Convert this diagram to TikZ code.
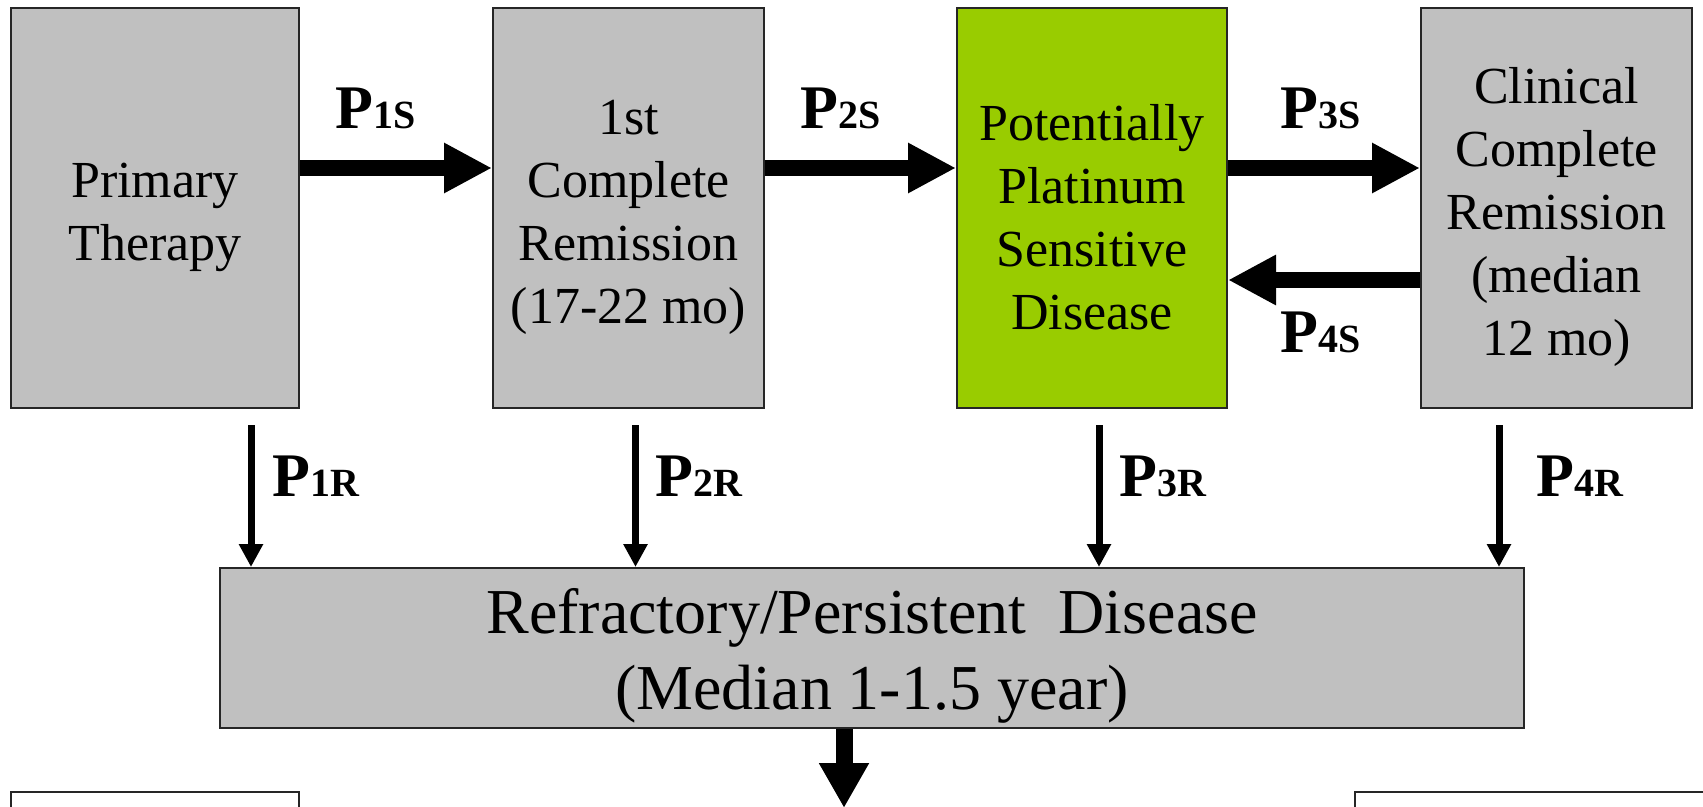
\documentclass[tikz,border=0pt]{standalone}
\usepackage{fontspec}
\setmainfont{Liberation Serif}
\usetikzlibrary{arrows.meta}
\definecolor{boxgray}{HTML}{C0C0C0}
\definecolor{platgreen}{HTML}{99CC00}
\newcommand{\prob}[1]{{\fontsize{62}{62}\selectfont\bfseries P}{\fontsize{40}{40}\selectfont\bfseries #1}}
\newcommand{\lift}[1]{\rule{0pt}{#1}}

\begin{document}
\begin{tikzpicture}[x=1pt,y=-1pt,
    state/.style={draw=black!85,line width=2pt,fill=boxgray,align=center,
      minimum height=400pt,inner sep=0pt,
      font=\fontsize{52}{63}\selectfont},
    sarrow/.style={line width=16pt,-{Triangle[length=48pt,width=47pt]}},
    rarrow/.style={line width=7pt,-{Triangle[length=23pt,width=23pt]}},
    darrow/.style={line width=17pt,-{Triangle[length=45pt,width=47pt]}},
    plabel/.style={anchor=base west,inner sep=0pt}]
  \useasboundingbox(0,0)rectangle(1703,806);
  \clip(0,0)rectangle(1703,806);
  \node[state,minimum width=288pt](prim)at(155,208){\lift{54pt}Primary\\Therapy};
  \node[state,minimum width=271pt](crem)at(628.5,208)
    {\lift{54pt}1st\\Complete\\Remission\\(17-22 mo)};
  \node[state,minimum width=270pt,fill=platgreen](plat)at(1092,208)
    {\lift{54pt}Potentially\\Platinum\\Sensitive\\Disease};
  \node[state,minimum width=271pt](clin)at(1556.5,208)
    {\lift{54pt}Clinical\\Complete\\Remission\\(median\\12 mo)};
  \node[state,minimum width=1304pt,minimum height=160pt,
    font=\fontsize{64}{76}\selectfont](refr)at(872,648)
    {\lift{60pt}Refractory/Persistent\ \ Disease\\(Median 1-1.5 year)};
  % partly shown boxes at the bottom edge
  \draw[draw=black!85,line width=2pt,fill=white](11,792)rectangle(299,840);
  \draw[draw=black!85,line width=2pt,fill=white](1355,792)rectangle(1720,840);

  \draw[sarrow]([yshift=40pt]prim.east)--([yshift=40pt]crem.west);
  \draw[sarrow]([yshift=40pt]crem.east)--([yshift=40pt]plat.west);
  \draw[sarrow]([yshift=40pt]plat.east)--([yshift=40pt]clin.west);
  \draw[sarrow]([yshift=-72pt]clin.west)--([yshift=-72pt]plat.east);
  \node[plabel](p1s)at(335,128){\prob{1S}};
  \node[plabel](p2s)at(800,128){\prob{2S}};
  \node[plabel](p3s)at(1280,128){\prob{3S}};
  \node[plabel](p4s)at(1280,352){\prob{4S}};

  \coordinate(r1)at([xshift=96pt,yshift=-16pt]prim.south);
  \coordinate(r2)at([xshift=7pt,yshift=-16pt]crem.south);
  \coordinate(r3)at([xshift=7pt,yshift=-16pt]plat.south);
  \coordinate(r4)at([xshift=-57.5pt,yshift=-16pt]clin.south);
  \foreach \i in {1,...,4}
    \draw[rarrow](r\i)--(r\i|-refr.north);
  \node[plabel](p1r)at(272,496){\prob{1R}};
  \node[plabel](p2r)at(655,496){\prob{2R}};
  \node[plabel](p3r)at(1119,496){\prob{3R}};
  \node[plabel](p4r)at(1536,496){\prob{4R}};

  \coordinate(out)at(844,808);
  \draw[darrow]([xshift=-28pt]refr.south)--(out);
\end{tikzpicture}
\end{document}
